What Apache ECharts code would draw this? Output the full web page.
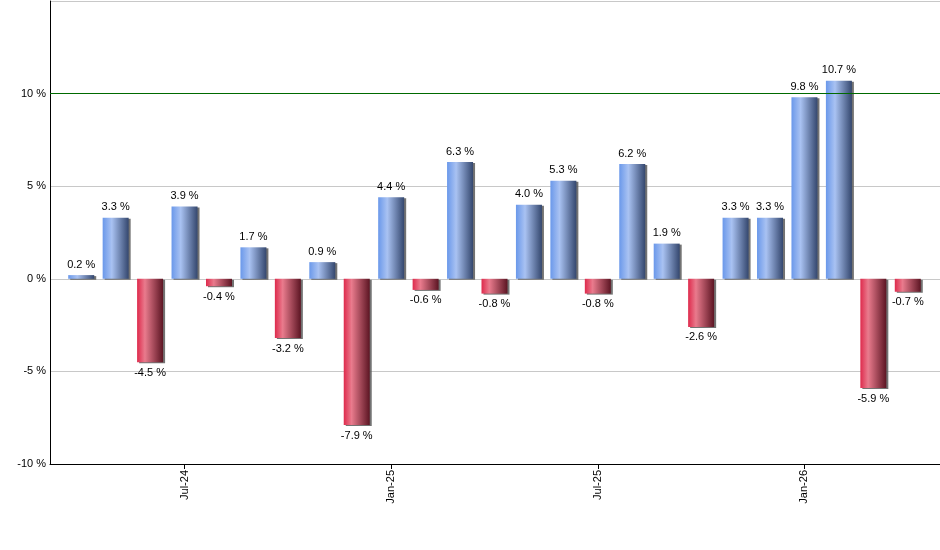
<!DOCTYPE html>
<html>
<head>
<meta charset="utf-8">
<script src="https://cdn.jsdelivr.net/npm/echarts@6/dist/echarts.min.js"></script>
<style>
html,body{margin:0;padding:0;background:#fff;}
#chart{width:940px;height:550px;}
</style>
</head>
<body>
<div id="chart"></div>
<script>
const categories = ['Apr-24','May-24','Jun-24','Jul-24','Aug-24','Sep-24','Oct-24','Nov-24','Dec-24','Jan-25','Feb-25','Mar-25','Apr-25','May-25','Jun-25','Jul-25','Aug-25','Sep-25','Oct-25','Nov-25','Dec-25','Jan-26','Feb-26','Mar-26','Apr-26'];
const values = [0.2, 3.3, -4.5, 3.9, -0.4, 1.7, -3.2, 0.9, -7.9, 4.4, -0.6, 6.3, -0.8, 4.0, 5.3, -0.8, 6.2, 1.9, -2.6, 3.3, 3.3, 9.8, 10.7, -5.9, -0.7];
const yTicks = [-10, -5, 0, 5, 10, 15];
const yLabelled = [-10, -5, 0, 5, 10];
const targetLine = 10;

const FONT = 'Liberation Sans, Arial, sans-serif';
const blueGrad = new echarts.graphic.LinearGradient(0,0,1,0,[
  {offset:0,color:'#6a98ea'},{offset:0.35,color:'#a9c2f2'},{offset:1,color:'#34476e'}]);
const redGrad = new echarts.graphic.LinearGradient(0,0,1,0,[
  {offset:0,color:'#de2a4c'},{offset:0.3,color:'#e97b8d'},{offset:1,color:'#5c1523'}]);

const data = values.map(v => ({
  value: v,
  itemStyle: {color: v >= 0 ? blueGrad : redGrad},
  label: {position: v >= 0 ? 'top' : 'bottom'}
}));

const chart = echarts.init(document.getElementById('chart'), null, {renderer:'canvas'});
chart.setOption({
  backgroundColor:'#fff',
  animation:false,
  grid:[
    {left:50, right:0, top:1, bottom:86, containLabel:false, outerBoundsMode:'none'},
    {left:64, right:15, top:1, bottom:86, containLabel:false, outerBoundsMode:'none'}
  ],
  xAxis:[
    {gridIndex:0, type:'value', min:0, max:1, axisLine:{show:true,onZero:false,lineStyle:{color:'#000',width:1}},
     axisTick:{show:false}, axisLabel:{show:false}, splitLine:{show:false}},
    {gridIndex:1, type:'category', data:categories, boundaryGap:true, position:'bottom',
     axisLine:{show:false, onZero:false}, 
     axisTick:{show:true, alignWithLabel:true, length:5, interval:(i)=> i % 6 === 3, lineStyle:{color:'#000'}},
     axisLabel:{interval:(i)=> i % 6 === 3, rotate:90, color:'#000', fontFamily:FONT, fontSize:11, margin:6},
     splitLine:{show:false}}
  ],
  yAxis:[
    {gridIndex:0, type:'value', min:yTicks[0], max:yTicks[yTicks.length-1], interval:5,
     axisLine:{show:true,lineStyle:{color:'#000',width:1}}, axisTick:{show:false},
     axisLabel:{formatter:(v)=> yLabelled.includes(v) ? v + ' %' : '', color:'#000', fontFamily:FONT, fontSize:11, margin:4},
     splitLine:{show:true,lineStyle:{color:'#c8c8c8',width:1}}},
    {gridIndex:1, type:'value', min:yTicks[0], max:yTicks[yTicks.length-1], interval:5, show:false,
     splitLine:{show:false}}
  ],
  series:[
    {type:'line', xAxisIndex:0, yAxisIndex:0, data:[], silent:true,
     markLine:{symbol:'none', silent:true, label:{show:false},
       lineStyle:{color:'#006a00', width:1, type:'solid'},
       data:[{yAxis:targetLine}]}},
    {type:'bar', xAxisIndex:1, yAxisIndex:1, data:data, barWidth:26,
     itemStyle:{shadowColor:'rgba(90,90,90,0.85)', shadowOffsetX:2, shadowOffsetY:1, shadowBlur:0},
     label:{show:true, color:'#000', fontFamily:FONT, fontSize:11, distance:5,
       formatter:(p)=> p.value.toFixed(1) + ' %'}}
  ]
});
</script>
</body>
</html>
